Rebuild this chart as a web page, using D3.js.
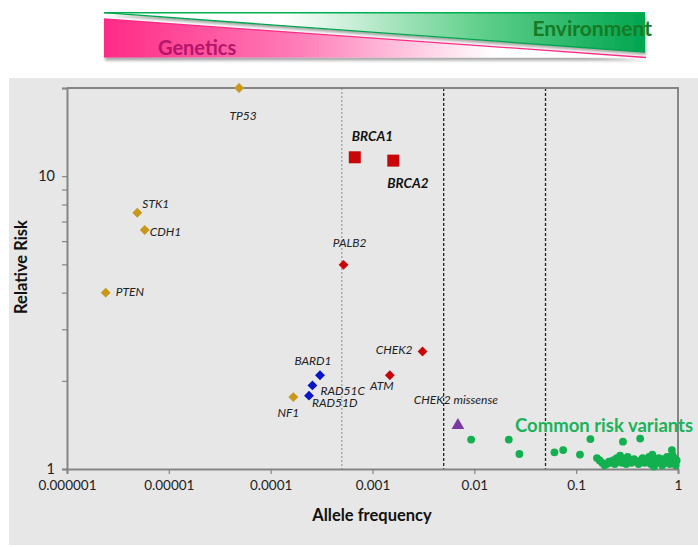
<!DOCTYPE html>
<html>
<head>
<meta charset="utf-8">
<script src="https://cdn.jsdelivr.net/npm/d3@7"></script>
<style>
  html, body { margin: 0; padding: 0; background: #fff; }
  svg { display: block; font-family: Lato, "Noto Sans", sans-serif; }
</style>
</head>
<body>
<svg id="chart" width="698" height="547"></svg>
<script>
// High-penetrance genes (gold diamonds)
const highNames = ["TP53", "STK1", "CDH1", "PTEN", "NF1"];
const highFreq  = [0.000049, 0.0000049, 0.0000058, 0.0000024, 0.000167];
const highRisk  = [20, 7.5, 6.55, 4.0, 1.76];

// Moderate-penetrance genes (red diamonds)
const modNames = ["PALB2", "CHEK2", "ATM"];
const modFreq  = [0.00052, 0.0031, 0.00148];
const modRisk  = [4.98, 2.52, 2.09];

// Moderate-penetrance genes (blue diamonds)
const blueNames = ["BARD1", "RAD51C", "RAD51D"];
const blueFreq  = [0.000305, 0.000257, 0.000238];
const blueRisk  = [2.09, 1.93, 1.78];

// BRCA genes (red squares)
const brcaNames = ["BRCA1", "BRCA2"];
const brcaFreq  = [0.00067, 0.0016];
const brcaRisk  = [11.6, 11.3];

// Missense variant (purple triangle)
const missNames = ["CHEK2 missense"];
const missFreq  = [0.0069];
const missRisk  = [1.41];

// Common low-risk variants (green dots)
const commonFreq = [0.0093, 0.0218, 0.0277, 0.0612, 0.0745, 0.109, 0.138, 0.288, 0.425, 0.871,
  0.16, 0.17, 0.18, 0.19, 0.2, 0.21, 0.22, 0.23, 0.24, 0.25, 0.26, 0.27, 0.28, 0.29, 0.30,
  0.31, 0.32, 0.34, 0.35, 0.37, 0.39, 0.41, 0.43, 0.45, 0.47, 0.5, 0.52, 0.54, 0.56, 0.58,
  0.6, 0.62, 0.65, 0.68, 0.7, 0.72, 0.75, 0.78, 0.8, 0.83, 0.86, 0.88, 0.9, 0.92, 0.95, 0.97];
const commonRisk = [1.26, 1.26, 1.125, 1.14, 1.16, 1.12, 1.265, 1.24, 1.27, 1.16,
  1.09, 1.07, 1.05, 1.03, 1.04, 1.06, 1.05, 1.07, 1.04, 1.09, 1.06, 1.11, 1.05, 1.08, 1.06,
  1.04, 1.10, 1.07, 1.05, 1.08, 1.06, 1.04, 1.07, 1.09, 1.05, 1.06, 1.10, 1.04, 1.12, 1.02,
  1.07, 1.05, 1.09, 1.06, 1.03, 1.08, 1.05, 1.10, 1.06, 1.04, 1.08, 1.12, 1.05, 1.09, 1.03, 1.07];

// Frequency thresholds shown as dashed guides
const guideFreq = [0.0005, 0.005, 0.05];

// Axis ticks
const xTicks = [0.000001, 0.00001, 0.0001, 0.001, 0.01, 0.1, 1];
const xTickLabels = ["0.000001", "0.00001", "0.0001", "0.001", "0.01", "0.1", "1"];
const yTicks = [1, 2, 3, 4, 5, 6, 7, 8, 9, 10, 20];
const yTickLabels = {1: "1", 10: "10"};

// Label placement for each named point: [text-anchor, dx, dy]
const labelPlace = {
  "TP53": ["middle", 4, 32],
  "STK1": ["start", 5, -5],
  "CDH1": ["start", 5, 6],
  "PTEN": ["start", 10, 3],
  "NF1": ["middle", -5, 20],
  "PALB2": ["middle", 6, -18],
  "CHEK2": ["end", -10, 3],
  "ATM": ["middle", -8, 15],
  "BARD1": ["middle", -7, -10],
  "RAD51C": ["start", 8, 10],
  "RAD51D": ["start", 3, 11],
  "BRCA1": ["start", -3, -16],
  "BRCA2": ["start", -6, 27],
  "CHEK2 missense": ["middle", -2, -21]
};

const svg = d3.select("#chart");
const defs = svg.append("defs");

// ---- Genetics / Environment banner ----
const gPink = defs.append("linearGradient").attr("id", "pinkGrad")
  .attr("x1", "0%").attr("x2", "100%").attr("y1", "0%").attr("y2", "0%");
gPink.append("stop").attr("offset", "0%").attr("stop-color", "#ff2a86");
gPink.append("stop").attr("offset", "35%").attr("stop-color", "#ff7ab6");
gPink.append("stop").attr("offset", "72%").attr("stop-color", "#ffffff");
gPink.append("stop").attr("offset", "100%").attr("stop-color", "#ffffff");

const gGreen = defs.append("linearGradient").attr("id", "greenGrad")
  .attr("x1", "0%").attr("x2", "100%").attr("y1", "0%").attr("y2", "0%");
gGreen.append("stop").attr("offset", "0%").attr("stop-color", "#ffffff");
gGreen.append("stop").attr("offset", "33%").attr("stop-color", "#ffffff");
gGreen.append("stop").attr("offset", "70%").attr("stop-color", "#5fcf8a");
gGreen.append("stop").attr("offset", "100%").attr("stop-color", "#00a550");

const shadow = defs.append("filter").attr("id", "shadow")
  .attr("x", "-5%").attr("y", "-20%").attr("width", "110%").attr("height", "160%");
shadow.append("feDropShadow").attr("dx", 1).attr("dy", 3).attr("stdDeviation", 1.8)
  .attr("flood-color", "#000").attr("flood-opacity", 0.35);

const banner = svg.append("g");
const bannerShapes = banner.append("g").attr("filter", "url(#shadow)");
bannerShapes.append("polygon")
  .attr("points", "104,19 646,57.5 104,57.5")
  .attr("fill", "url(#pinkGrad)");
bannerShapes.append("polygon")
  .attr("points", "104,12.7 645,12.7 645,52")
  .attr("fill", "url(#greenGrad)");
banner.append("line").attr("x1", 104).attr("y1", 19).attr("x2", 646).attr("y2", 57.5)
  .attr("stroke", "#ff2a86").attr("stroke-width", 1.3);
banner.append("polyline").attr("points", "104,12.7 645,12.7")
  .attr("fill", "none").attr("stroke", "#00b050").attr("stroke-width", 1.5);
banner.append("line").attr("x1", 104).attr("y1", 12.7).attr("x2", 645).attr("y2", 52)
  .attr("stroke", "#00a550").attr("stroke-width", 1.3);
banner.append("text").attr("x", 158).attr("y", 55)
  .attr("font-size", 20).attr("font-weight", "bold").attr("fill", "#b3166a")
  .text("Genetics");
banner.append("text").attr("x", 652).attr("y", 36).attr("text-anchor", "end")
  .attr("font-size", 21).attr("font-weight", "bold").attr("fill", "#177a24")
  .text("Environment");

// ---- Chart panel ----
svg.append("rect").attr("x", 9).attr("y", 78).attr("width", 689).attr("height", 467)
  .attr("fill", "#e7e7e7");

const margin = {left: 67, right: 678, top: 88, bottom: 469};
const x = d3.scaleLog().domain([0.000001, 1]).range([margin.left, margin.right]);
const y = d3.scaleLog().domain([1, 20]).range([margin.bottom, margin.top]);

// Dashed frequency guides
svg.append("g").selectAll("line").data(guideFreq).join("line")
  .attr("x1", d => x(d)).attr("x2", d => x(d))
  .attr("y1", margin.top).attr("y2", margin.bottom)
  .attr("stroke", (d, i) => i === 0 ? "#8a8a8a" : "#222")
  .attr("stroke-width", (d, i) => i === 0 ? 1 : 1.3)
  .attr("stroke-dasharray", (d, i) => i === 0 ? "2,2" : "3,2");

// Frame (top and right edges)
svg.append("polyline")
  .attr("points", `${margin.left},${margin.top} ${margin.right},${margin.top} ${margin.right},${margin.bottom}`)
  .attr("fill", "none").attr("stroke", "#858585").attr("stroke-width", 2);

// X axis
const xAxis = svg.append("g").attr("transform", `translate(0,${margin.bottom})`)
  .call(d3.axisBottom(x).tickValues(xTicks)
    .tickFormat((d, i) => xTickLabels[i]).tickSize(5).tickPadding(6));
xAxis.select(".domain").attr("stroke", "#858585").attr("stroke-width", 2);
xAxis.selectAll(".tick line").attr("stroke", "#858585").attr("stroke-width", 1.2);
xAxis.selectAll(".tick text").attr("font-size", 13.5).attr("fill", "#222")
  .attr("font-family", "Lato, sans-serif");

// Y axis
const yAxis = svg.append("g").attr("transform", `translate(${margin.left},0)`)
  .call(d3.axisLeft(y).tickValues(yTicks)
    .tickFormat(d => yTickLabels[d] || "").tickSize(5).tickPadding(7));
yAxis.select(".domain").attr("stroke", "#858585").attr("stroke-width", 2);
yAxis.selectAll(".tick line").attr("stroke", "#858585").attr("stroke-width", 1.2);
yAxis.selectAll(".tick text").attr("font-size", 14.5).attr("fill", "#222")
  .attr("font-family", "Lato, sans-serif");

// Axis titles
svg.append("text").attr("x", 372).attr("y", 521).attr("text-anchor", "middle")
  .attr("font-size", 16.5).attr("font-weight", "bold").attr("fill", "#111")
  .text("Allele frequency");
svg.append("text").attr("transform", "translate(27,267) rotate(-90)")
  .attr("text-anchor", "middle")
  .attr("font-size", 16.5).attr("font-weight", "bold").attr("fill", "#111")
  .text("Relative Risk");

// ---- Marks ----
const marks = svg.append("g");
const diamond = d3.symbol().type(d3.symbolDiamond2).size(62);

function zip(names, freq, risk) {
  return names.map((n, i) => ({name: n, f: freq[i], r: risk[i]}));
}
const highData = zip(highNames, highFreq, highRisk);
const modData = zip(modNames, modFreq, modRisk);
const blueData = zip(blueNames, blueFreq, blueRisk);
const brcaData = zip(brcaNames, brcaFreq, brcaRisk);
const missData = zip(missNames, missFreq, missRisk);
const commonData = commonFreq.map((f, i) => ({f, r: commonRisk[i]}));

// Common variants
marks.append("g").selectAll("circle").data(commonData).join("circle")
  .attr("cx", d => x(d.f)).attr("cy", d => y(d.r)).attr("r", 3.9)
  .attr("fill", "#12b04e");

function drawDiamonds(data, color) {
  marks.append("g").selectAll("path").data(data).join("path")
    .attr("transform", d => `translate(${x(d.f)},${y(d.r)})`)
    .attr("d", diamond).attr("fill", color);
}
drawDiamonds(highData, "#c9971a");
drawDiamonds(modData, "#c8060a");
drawDiamonds(blueData, "#0a14c8");

marks.append("g").selectAll("rect").data(brcaData).join("rect")
  .attr("x", d => x(d.f) - 6).attr("y", d => y(d.r) - 6)
  .attr("width", 12).attr("height", 12).attr("fill", "#c8060a");

marks.append("g").selectAll("path").data(missData).join("path")
  .attr("transform", d => `translate(${x(d.f)},${y(d.r)})`)
  .attr("d", d3.symbol().type(d3.symbolTriangle).size(70))
  .attr("fill", "#7a3aa3");

// ---- Labels ----
function drawLabels(data, bold, size) {
  marks.append("g").selectAll("text").data(data).join("text")
    .attr("x", d => x(d.f) + labelPlace[d.name][1])
    .attr("y", d => y(d.r) + labelPlace[d.name][2])
    .attr("text-anchor", d => labelPlace[d.name][0])
    .attr("font-size", size).attr("font-style", "italic")
    .attr("font-weight", bold ? "bold" : "normal")
    .attr("fill", bold ? "#111" : "#222")
    .text(d => d.name);
}
drawLabels(highData, false, 12);
drawLabels(modData, false, 12);
drawLabels(blueData, false, 12);
drawLabels(missData, false, 12);
drawLabels(brcaData, true, 13.5);

svg.append("text").attr("x", 515).attr("y", 432)
  .attr("font-size", 18.5).attr("font-weight", "bold").attr("fill", "#1cb25a")
  .text("Common risk variants");
</script>
</body>
</html>
